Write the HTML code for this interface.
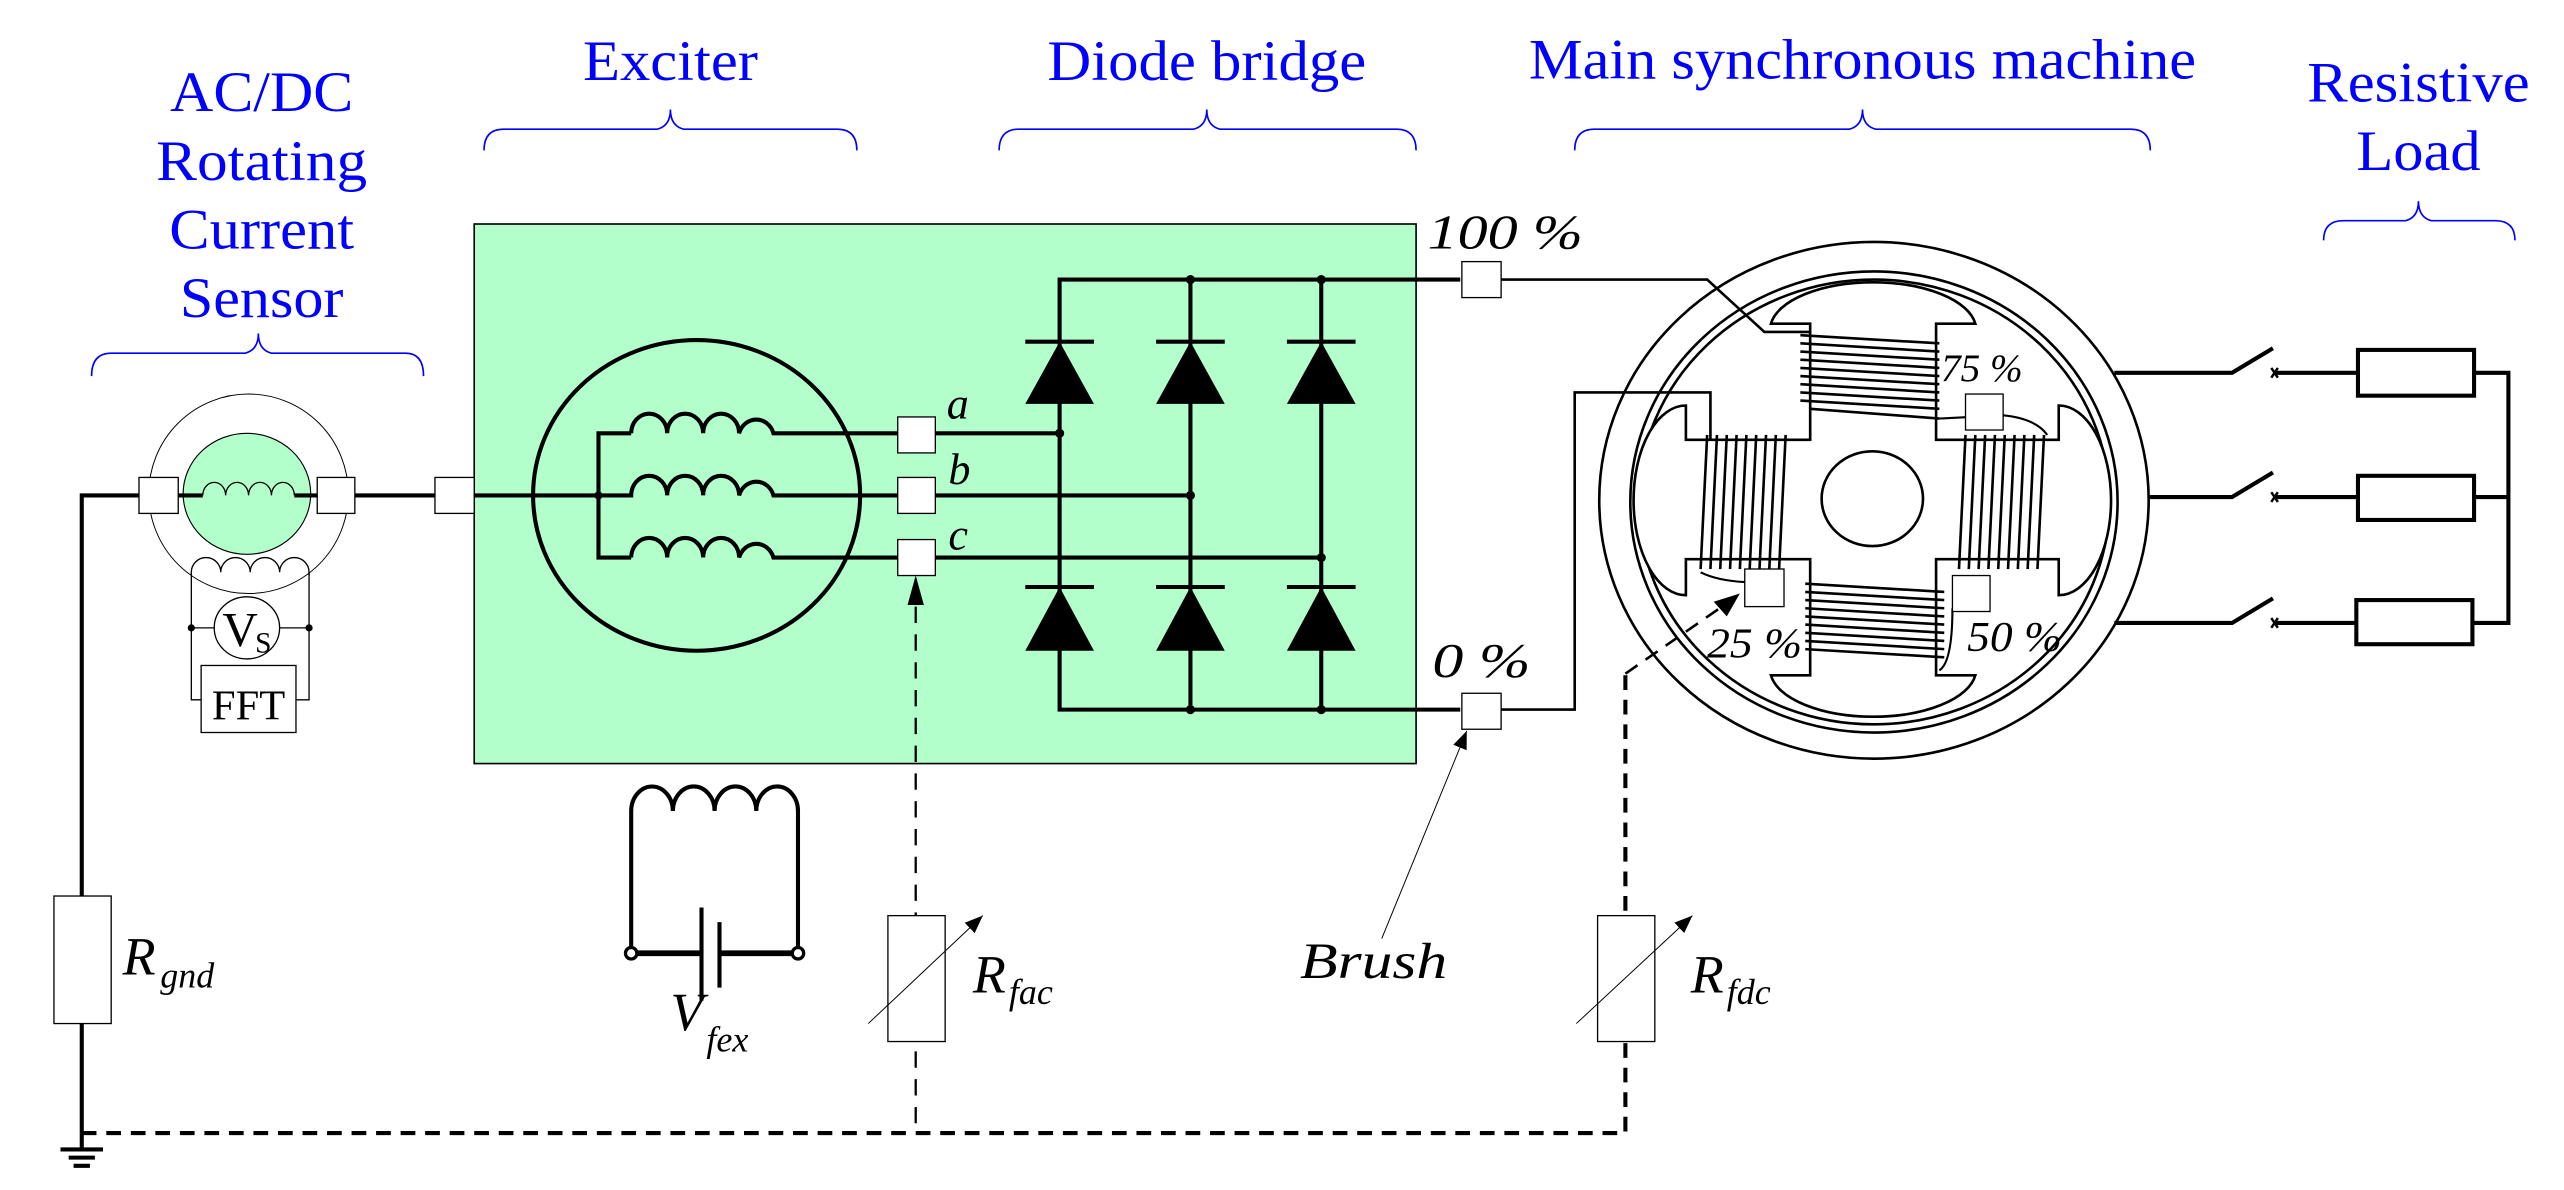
<!DOCTYPE html>
<html><head><meta charset="utf-8"><style>
html,body{margin:0;padding:0;background:#fff;}
svg{display:block;}
.t{font-family:"Liberation Serif",serif;fill:#0000ff;}
.i{font-family:"Liberation Serif",serif;font-style:italic;fill:#000;}
</style></head><body>
<svg width="2564" height="1190" viewBox="0 0 1568 727.8" preserveAspectRatio="none" xmlns="http://www.w3.org/2000/svg">
<defs>
<marker id="ah" viewBox="0 0 10 10" refX="10" refY="5" markerWidth="7" markerHeight="7" orient="auto" markerUnits="userSpaceOnUse"><path d="M0,0 L10,5 L0,10 z" fill="#000"/></marker>
<marker id="ah2" viewBox="0 0 10 10" refX="10" refY="5" markerWidth="11" markerHeight="11" orient="auto" markerUnits="userSpaceOnUse"><path d="M0,1 L10,5 L0,9 z" fill="#000"/></marker>
</defs>

<!-- titles -->
<g class="t" font-size="35" text-anchor="middle">
<text x="160" y="68" textLength="112" lengthAdjust="spacingAndGlyphs">AC/DC</text>
<text x="160" y="110" textLength="129" lengthAdjust="spacingAndGlyphs">Rotating</text>
<text x="160" y="152" textLength="113" lengthAdjust="spacingAndGlyphs">Current</text>
<text x="160" y="194" textLength="100" lengthAdjust="spacingAndGlyphs">Sensor</text>
<text x="410" y="49" textLength="107" lengthAdjust="spacingAndGlyphs">Exciter</text>
<text x="738" y="49" textLength="195" lengthAdjust="spacingAndGlyphs">Diode bridge</text>
<text x="1139" y="48" textLength="408" lengthAdjust="spacingAndGlyphs">Main synchronous machine</text>
<text x="1479" y="62" textLength="136" lengthAdjust="spacingAndGlyphs">Resistive</text>
<text x="1479" y="104" textLength="76" lengthAdjust="spacingAndGlyphs">Load</text>
</g>

<!-- braces -->
<g fill="none" stroke="#0000ff" stroke-width="1">
<path d="M56,230 Q56,216 68,216 L150,216 Q158,214 158,204 Q158,214 166,216 L248,216 Q259,216 259,230"/>
<path d="M296,92 Q296,79 308,79 L402,79 Q410,77 410,67 Q410,77 418,79 L512,79 Q524,79 524,92"/>
<path d="M611,92 Q611,79 623,79 L730,79 Q738,77 738,67 Q738,77 746,79 L854,79 Q866,79 866,92"/>
<path d="M963,92 Q963,79 975,79 L1131,79 Q1139,77 1139,67 Q1139,77 1147,79 L1303,79 Q1315,79 1315,92"/>
<path d="M1421,147 Q1421,135 1433,135 L1471,135 Q1479,133 1479,123 Q1479,133 1487,135 L1526,135 Q1538,135 1538,147"/>
</g>

<!-- green box -->
<rect x="290" y="137" width="576" height="330" fill="#b3ffcc" stroke="#000" stroke-width="1"/>

<!-- sensor -->
<circle cx="152" cy="302" r="61" fill="none" stroke="#000" stroke-width="0.6"/>
<ellipse cx="151" cy="302" rx="39" ry="37" fill="#b3ffcc" stroke="#000" stroke-width="0.7"/>
<path d="M124,303 a7,8 0 0 1 14,0 a7,8 0 0 1 14,0 a7,8 0 0 1 14,0 a7,8 0 0 1 14,0" fill="none" stroke="#000" stroke-width="0.8"/>
<path d="M117,352 L117,350 a9,9 0 0 1 18,0 a9,9 0 0 1 18,0 a9,9 0 0 1 18,0 a9,9 0 0 1 18,0 L189,352" fill="none" stroke="#000" stroke-width="0.8"/>
<g stroke="#000" stroke-width="0.8" fill="none">
<path d="M117,350 L117,428 L123,428"/>
<path d="M189,350 L189,428 L181,428"/>
<line x1="117" y1="384" x2="131" y2="384"/>
<line x1="171" y1="384" x2="189" y2="384"/>
</g>
<circle cx="117" cy="384" r="2.2"/><circle cx="189" cy="384" r="2.2"/>
<ellipse cx="151" cy="384" rx="20" ry="19" fill="#fff" stroke="#000" stroke-width="0.8"/>
<text x="136" y="395" font-family="Liberation Serif,serif" font-size="30">V</text>
<text x="156" y="399" font-family="Liberation Serif,serif" font-size="18">S</text>
<rect x="123" y="407" width="58" height="41" fill="#fff" stroke="#000" stroke-width="0.8"/>
<text x="152" y="440" font-family="Liberation Serif,serif" font-size="26" text-anchor="middle">FFT</text>

<!-- main wire -->
<g stroke="#000" stroke-width="2.5" fill="none">
<path d="M50,693 L50,303 L124,303"/>
<line x1="180" y1="303" x2="366" y2="303"/>
</g>
<rect x="85" y="292" width="24" height="22" fill="#fff" stroke="#000" stroke-width="0.8"/>
<rect x="194" y="292" width="23" height="22" fill="#fff" stroke="#000" stroke-width="0.8"/>
<rect x="266" y="292" width="24" height="22" fill="#fff" stroke="#000" stroke-width="0.8"/>

<!-- Rgnd -->
<rect x="33" y="548" width="35" height="78" fill="#fff" stroke="#000" stroke-width="0.8"/>
<text x="75" y="596" class="i" font-size="33">R</text><text x="98" y="604" class="i" font-size="22">gnd</text>
<!-- ground -->
<g stroke="#000" stroke-width="2.5"><line x1="50" y1="693" x2="50" y2="702"/>
<line x1="37" y1="703" x2="63" y2="703"/><line x1="42" y1="708" x2="58" y2="708"/><line x1="45" y1="713" x2="55" y2="713"/></g>

<!-- bottom dashed line -->
<path d="M50,693 L994,693 L994,412" fill="none" stroke="#000" stroke-width="2.5" stroke-dasharray="9,6"/>

<!-- exciter -->
<ellipse cx="426" cy="303" rx="100" ry="95" fill="none" stroke="#000" stroke-width="2.5"/>
<g stroke="#000" stroke-width="2.5" fill="none">
<path d="M386,265 L366,265 L366,341 L386,341"/>
<path d="M386,265 a11,12 0 0 1 22,0 a11,12 0 0 1 22,0 a11,12 0 0 1 22,0 a11,12 0 0 1 21,0 L549,265"/>
<path d="M366,303 L386,303 a11,12 0 0 1 22,0 a11,12 0 0 1 22,0 a11,12 0 0 1 22,0 a11,12 0 0 1 21,0 L549,303"/>
<path d="M386,341 a11,12 0 0 1 22,0 a11,12 0 0 1 22,0 a11,12 0 0 1 22,0 a11,12 0 0 1 21,0 L549,341"/>
<line x1="572" y1="265" x2="648" y2="265"/>
<line x1="572" y1="303" x2="728" y2="303"/>
<line x1="572" y1="341" x2="808" y2="341"/>
</g>
<circle cx="366" cy="303" r="2.5"/>
<rect x="549" y="255" width="23" height="22" fill="#fff" stroke="#000" stroke-width="0.8"/>
<rect x="549" y="292" width="23" height="22" fill="#fff" stroke="#000" stroke-width="0.8"/>
<rect x="549" y="330" width="23" height="22" fill="#fff" stroke="#000" stroke-width="0.8"/>
<text x="579" y="256" class="i" font-size="27">a</text>
<text x="580" y="296" class="i" font-size="27">b</text>
<text x="580" y="336" class="i" font-size="27">c</text>

<!-- diode bridge -->
<g stroke="#000" stroke-width="2.5" fill="none">
<path d="M893,171 L648,171 L648,434 L893,434"/>
<line x1="728" y1="171" x2="728" y2="434"/>
<line x1="808" y1="171" x2="808" y2="434"/>
<line x1="627" y1="209" x2="669" y2="209"/><line x1="707" y1="209" x2="749" y2="209"/><line x1="787" y1="209" x2="829" y2="209"/>
<line x1="627" y1="359" x2="669" y2="359"/><line x1="707" y1="359" x2="749" y2="359"/><line x1="787" y1="359" x2="829" y2="359"/>
</g>
<g fill="#000">
<path d="M648,209 L669,247 L627,247 Z"/><path d="M728,209 L749,247 L707,247 Z"/><path d="M808,209 L829,247 L787,247 Z"/>
<path d="M648,359 L669,398 L627,398 Z"/><path d="M728,359 L749,398 L707,398 Z"/><path d="M808,359 L829,398 L787,398 Z"/>
<circle cx="728" cy="171" r="2.8"/><circle cx="808" cy="171" r="2.8"/>
<circle cx="648" cy="265" r="2.8"/><circle cx="728" cy="303" r="2.8"/><circle cx="808" cy="341" r="2.8"/>
<circle cx="728" cy="434" r="2.8"/><circle cx="808" cy="434" r="2.8"/>
</g>

<!-- brushes / connections -->
<g stroke="#000" stroke-width="1.6" fill="none">
<path d="M918,171 L1044,171 L1079,203 L1107,203"/>
<path d="M918,434 L963,434 L963,240 L1046,240 L1046,269"/>
</g>
<rect x="894" y="160" width="24" height="22" fill="#fff" stroke="#000" stroke-width="0.8"/>
<rect x="894" y="424" width="24" height="22" fill="#fff" stroke="#000" stroke-width="0.8"/>
<text x="873" y="152" class="i" font-size="30" textLength="95" lengthAdjust="spacingAndGlyphs">100 %</text>
<text x="876" y="414" class="i" font-size="30" textLength="60" lengthAdjust="spacingAndGlyphs">0 %</text>
<line x1="845" y1="574" x2="897" y2="447" stroke="#000" stroke-width="0.6" marker-end="url(#ah2)"/>
<text x="795" y="598" class="i" font-size="31" textLength="90" lengthAdjust="spacingAndGlyphs">Brush</text>

<!-- Vfex -->
<g stroke="#000" stroke-width="2.5" fill="none">
<path d="M386,583 L386,496 a12.75,15 0 0 1 25.5,0 a12.75,15 0 0 1 25.5,0 a12.75,15 0 0 1 25.5,0 a12.75,15 0 0 1 25.5,0 L488,583"/>
<line x1="386" y1="583" x2="429" y2="583" stroke-width="3.5"/>
<line x1="440" y1="583" x2="488" y2="583" stroke-width="3.5"/>
<line x1="429" y1="555" x2="429" y2="612"/>
<line x1="440" y1="564" x2="440" y2="604"/>
</g>
<circle cx="386" cy="583" r="3.5" fill="#fff" stroke="#000" stroke-width="2"/>
<circle cx="488" cy="583" r="3.5" fill="#fff" stroke="#000" stroke-width="2"/>
<text x="410" y="630" class="i" font-size="33">V</text><text x="432" y="643" class="i" font-size="22">fex</text>

<!-- Rfac -->
<line x1="560" y1="354" x2="560" y2="693" stroke="#000" stroke-width="1.4" stroke-dasharray="10,7"/>
<path d="M560,352 L555,370 L565,370 Z" fill="#000"/>
<rect x="543" y="560" width="35" height="77" fill="#fff" stroke="#000" stroke-width="0.8"/>
<line x1="531" y1="626" x2="601" y2="560" stroke="#000" stroke-width="0.6" marker-end="url(#ah2)"/>
<text x="595" y="607" class="i" font-size="33">R</text><text x="617" y="614" class="i" font-size="22">fac</text>

<!-- Rfdc -->
<rect x="977" y="560" width="35" height="77" fill="#fff" stroke="#000" stroke-width="0.8"/>
<line x1="964" y1="626" x2="1035" y2="560" stroke="#000" stroke-width="0.6" marker-end="url(#ah2)"/>
<text x="1034" y="607" class="i" font-size="33">R</text><text x="1056" y="614" class="i" font-size="22">fdc</text>
<path d="M994,412 L1056,369" fill="none" stroke="#000" stroke-width="1.6" stroke-dasharray="9,6"/>
<path d="M1064,363 L1048,368 L1056,377 Z" fill="#000"/>

<!-- main machine -->
<g fill="none" stroke="#000" stroke-width="1.6">
<ellipse cx="1146" cy="306" rx="168" ry="158"/>
<ellipse cx="1146" cy="307" rx="149" ry="141"/>
<ellipse cx="1146" cy="307" rx="144" ry="136"/>
<ellipse cx="1145" cy="305" rx="31" ry="29"/>
<path fill="#fff" d="M1107,198 L1083,198 A63,29 0 0 1 1208,198 L1184,198 L1184,269 L1259,269 L1259,248 A32,58 0 0 1 1259,364 L1259,342 L1184,342 L1184,413 L1208,413 A63,29 0 0 1 1083,413 L1107,413 L1107,342 L1031,342 L1031,364 A32,58 0 0 1 1031,248 L1031,269 L1107,269 Z"/>
</g>
<ellipse cx="1145" cy="305" rx="31" ry="29" fill="#fff" stroke="#000" stroke-width="1.6"/>
<g stroke="#000" stroke-width="1.6">
<line x1="1101" y1="205" x2="1186" y2="210"/><line x1="1101" y1="210" x2="1186" y2="215"/><line x1="1101" y1="215" x2="1186" y2="220"/><line x1="1101" y1="220" x2="1186" y2="225"/><line x1="1101" y1="225" x2="1186" y2="230"/><line x1="1101" y1="230" x2="1186" y2="235"/><line x1="1101" y1="235" x2="1186" y2="240"/><line x1="1101" y1="240" x2="1186" y2="245"/><line x1="1101" y1="245" x2="1186" y2="250"/><line x1="1107" y1="250" x2="1186" y2="256"/>
<line x1="1104" y1="357" x2="1189" y2="362"/><line x1="1104" y1="362" x2="1189" y2="367"/><line x1="1104" y1="367" x2="1189" y2="372"/><line x1="1104" y1="372" x2="1189" y2="377"/><line x1="1104" y1="377" x2="1189" y2="382"/><line x1="1104" y1="382" x2="1189" y2="387"/><line x1="1104" y1="387" x2="1189" y2="392"/><line x1="1104" y1="392" x2="1189" y2="397"/><line x1="1104" y1="397" x2="1189" y2="402"/>
<line x1="1044" y1="266" x2="1040" y2="348"/><line x1="1050" y1="266" x2="1046" y2="348"/><line x1="1056" y1="266" x2="1052" y2="348"/><line x1="1062" y1="266" x2="1058" y2="348"/><line x1="1068" y1="266" x2="1064" y2="348"/><line x1="1074" y1="266" x2="1070" y2="348"/><line x1="1080" y1="266" x2="1076" y2="348"/><line x1="1086" y1="266" x2="1082" y2="348"/><line x1="1092" y1="266" x2="1088" y2="348"/>
<line x1="1202" y1="266" x2="1198" y2="348"/><line x1="1208" y1="266" x2="1204" y2="348"/><line x1="1214" y1="266" x2="1210" y2="348"/><line x1="1220" y1="266" x2="1216" y2="348"/><line x1="1226" y1="266" x2="1222" y2="348"/><line x1="1232" y1="266" x2="1228" y2="348"/><line x1="1238" y1="266" x2="1234" y2="348"/><line x1="1244" y1="266" x2="1240" y2="348"/><line x1="1250" y1="266" x2="1246" y2="348"/>
</g>
<g fill="none" stroke="#000" stroke-width="1.3">
<path d="M1186,256 L1225,254 Q1245,256 1252,266"/>
<path d="M1040,350 Q1050,355 1067,356"/>
<path d="M1194,372 Q1194,405 1186,410"/>
</g>
<rect x="1202" y="241" width="23" height="22" fill="#fff" stroke="#000" stroke-width="0.8"/>
<rect x="1067" y="348" width="24" height="23" fill="#fff" stroke="#000" stroke-width="0.8"/>
<rect x="1194" y="352" width="23" height="22" fill="#fff" stroke="#000" stroke-width="0.8"/>
<text x="1187" y="233" class="i" font-size="24" textLength="50" lengthAdjust="spacingAndGlyphs">75 %</text>
<text x="1044" y="402" class="i" font-size="26" textLength="58" lengthAdjust="spacingAndGlyphs">25 %</text>
<text x="1203" y="398" class="i" font-size="26" textLength="58" lengthAdjust="spacingAndGlyphs">50 %</text>

<!-- resistive load -->
<g stroke="#000" stroke-width="2.5" fill="none">
<path d="M1293,228 L1365,228 L1390,213"/><path d="M1391,228 L1442,228"/>
<path d="M1314,304 L1365,304 L1390,289"/><path d="M1391,304 L1442,304"/>
<path d="M1293,381 L1365,381 L1390,366"/><path d="M1391,381 L1442,381"/>
<rect x="1442" y="214" width="71" height="28"/>
<rect x="1442" y="291" width="71" height="27"/>
<rect x="1441" y="367" width="71" height="27"/>
<path d="M1513,228 L1534,228 L1534,381 L1512,381"/>
<line x1="1513" y1="304" x2="1534" y2="304"/>
<path d="M1389,225 l4,6 M1393,225 l-4,6 M1389,301 l4,6 M1393,301 l-4,6 M1389,378 l4,6 M1393,378 l-4,6" stroke-width="1.5"/>
</g>
</svg>
</body></html>
